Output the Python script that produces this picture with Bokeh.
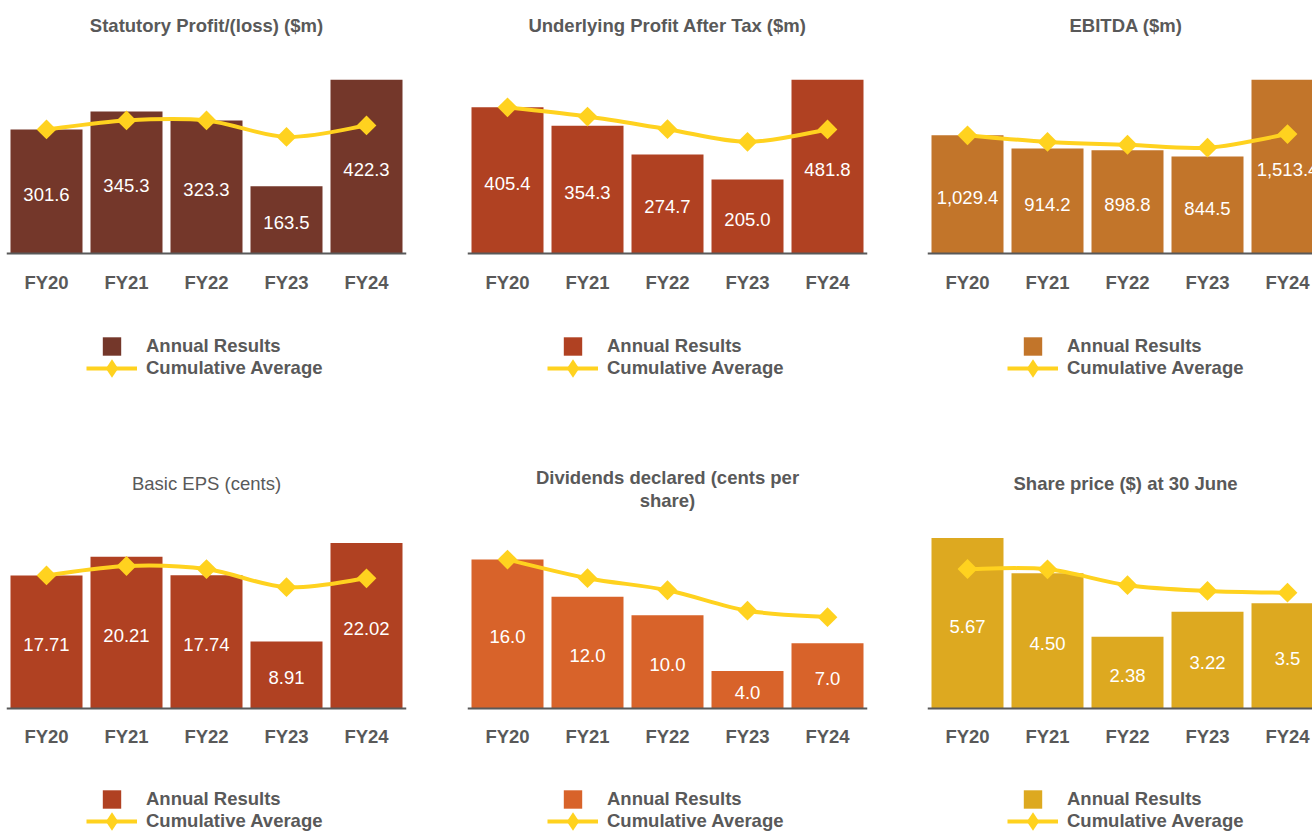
import math
from bokeh.plotting import figure
from bokeh.layouts import column, row
from bokeh.models import (ColumnDataSource, Range1d, FixedTicker, Legend, LegendItem, Title)
from bokeh.core.properties import value
from bokeh.embed import file_html
from bokeh.resources import INLINE

# ---------------- data ----------------
years = ["FY20", "FY21", "FY22", "FY23", "FY24"]

statutory = [301.6, 345.3, 323.3, 163.5, 422.3]
statutory_avg = [301.6, 323.5, 323.4, 283.4, 311.2]
statutory_labels = ["301.6", "345.3", "323.3", "163.5", "422.3"]

underlying = [405.4, 354.3, 274.7, 205.0, 481.8]
underlying_avg = [405.4, 379.9, 344.8, 309.9, 344.2]
underlying_labels = ["405.4", "354.3", "274.7", "205.0", "481.8"]

ebitda = [1029.4, 914.2, 898.8, 844.5, 1513.4]
ebitda_avg = [1029.4, 971.8, 947.5, 921.7, 1040.1]
ebitda_labels = ["1,029.4", "914.2", "898.8", "844.5", "1,513.4"]

eps = [17.71, 20.21, 17.74, 8.91, 22.02]
eps_avg = [17.71, 18.96, 18.55, 16.14, 17.32]
eps_labels = ["17.71", "20.21", "17.74", "8.91", "22.02"]

dividends = [16.0, 12.0, 10.0, 4.0, 7.0]
dividends_avg = [16.0, 14.0, 12.7, 10.5, 9.8]
dividends_labels = ["16.0", "12.0", "10.0", "4.0", "7.0"]

share_price = [5.67, 4.50, 2.38, 3.22, 3.50]
share_price_avg = [4.64, 4.63, 4.10, 3.91, 3.85]
share_price_labels = ["5.67", "4.50", "2.38", "3.22", "3.5"]

legend_labels = ["Annual Results", "Cumulative Average"]

# ---------------- style ----------------
FONT = "Liberation Sans"
GREY = "#595959"
YELLOW = "#FFD21F"
FS = "18.5px"


def smooth_segments(xs, ys):
    """Cubic (Catmull-Rom style) bezier segments through the data points."""
    n = len(xs)
    seg = dict(x0=[], y0=[], x1=[], y1=[], cx0=[], cy0=[], cx1=[], cy1=[])
    for i in range(n - 1):
        a = max(i - 1, 0)
        d = min(i + 2, n - 1)
        seg["x0"].append(xs[i]); seg["y0"].append(ys[i])
        seg["x1"].append(xs[i + 1]); seg["y1"].append(ys[i + 1])
        seg["cx0"].append(xs[i] + (xs[i + 1] - xs[a]) / 6)
        seg["cy0"].append(ys[i] + (ys[i + 1] - ys[a]) / 6)
        seg["cx1"].append(xs[i + 1] - (xs[d] - xs[i]) / 6)
        seg["cy1"].append(ys[i + 1] - (ys[d] - ys[i]) / 6)
    return seg


def panel(title_lines, vals, avg, labels, color, *, width, left, frame_w, height,
          frame_top, baseline, px_per_unit, standoffs, title_bold=True,
          title_align="center", title_offset=0):
    n = len(vals)
    xs = list(range(n))
    unit = 80.0  # pixels per category
    x_start = -0.5
    x_end = x_start + frame_w / unit
    y_end = (baseline - frame_top) / px_per_unit
    y_start = -(height - baseline) / px_per_unit

    p = figure(width=width, height=height,
               x_range=Range1d(x_start, x_end), y_range=Range1d(y_start, y_end),
               y_axis_location=None, output_backend="svg", toolbar_location=None,
               min_border_left=left, min_border_right=width - left - frame_w,
               min_border_top=frame_top, min_border_bottom=0)
    p.title.text = ""
    p.outline_line_color = None
    p.xgrid.visible = False
    p.ygrid.visible = False
    p.background_fill_color = "white"
    p.border_fill_color = "white"

    # title lines: the last line sits closest to the chart
    for line, so in zip(reversed(title_lines), reversed(standoffs)):
        t = Title(text=line, align=title_align, offset=title_offset, standoff=so,
                  text_font=FONT, text_font_size=FS,
                  text_font_style="bold" if title_bold else "normal",
                  text_color=GREY)
        p.add_layout(t, "above")

    ax = p.xaxis[0]
    ax.fixed_location = 0
    ax.ticker = FixedTicker(ticks=xs)
    ax.major_label_overrides = {i: y for i, y in enumerate(years)}
    ax.axis_line_color = GREY
    ax.axis_line_width = 2
    ax.major_tick_line_color = None
    ax.minor_tick_line_color = None
    ax.major_tick_out = 0
    ax.major_tick_in = 0
    ax.major_label_standoff = 18
    ax.major_label_text_font = FONT
    ax.major_label_text_font_size = FS
    ax.major_label_text_font_style = "bold"
    ax.major_label_text_color = GREY

    src = ColumnDataSource(dict(x=xs, top=vals, mid=[v / 2 for v in vals],
                                label=labels, avg=avg))
    p.vbar(x="x", top="top", bottom=0, width=0.9, source=src,
           fill_color=color, line_color=None)
    p.text(x="x", y="mid", text="label", source=src, text_color="white",
           text_align="center", text_baseline="middle", y_offset=3,
           text_font=value(FONT), text_font_size=value(FS))
    seg_src = ColumnDataSource(smooth_segments(xs, avg))
    ln = p.bezier(x0="x0", y0="y0", x1="x1", y1="y1", cx0="cx0", cy0="cy0",
                  cx1="cx1", cy1="cy1", source=seg_src,
                  line_color=YELLOW, line_width=4)
    p.scatter(x="x", y="avg", source=src, marker="square", angle=math.pi / 4,
              size=14, fill_color=YELLOW, line_color=None)
    # legend-only swatches (zero size on the chart)
    sw = p.scatter(x="x", y="top", source=src, marker="square", size=0,
                   fill_color=color, line_color=None)
    dl = p.scatter(x="x", y="avg", source=src, marker="diamond", size=0,
                   fill_color=YELLOW, line_color=None)

    gh = 46
    common = dict(glyph_width=51, glyph_height=gh, label_standoff=9,
                  padding=0, margin=0, border_line_color=None,
                  background_fill_alpha=0,
                  label_text_font=FONT, label_text_font_size=FS,
                  label_text_font_style="bold", label_text_color=GREY)
    leg_a = Legend(items=[LegendItem(label=legend_labels[0], renderers=[sw])],
                   location=(80, height - 346 - gh / 2), **common)
    leg_b = Legend(items=[LegendItem(label=legend_labels[1], renderers=[ln, dl])],
                   location=(80, height - 368 - gh / 2), **common)
    p.add_layout(leg_a)
    p.add_layout(leg_b)
    return p


H1, H2 = 453, 378
common1 = dict(height=H1, baseline=253, frame_top=46)
common2 = dict(height=H2, baseline=254, frame_top=55)

p1 = panel(["Statutory Profit/(loss) ($m)"], statutory, statutory_avg, statutory_labels,
           "#74372A", width=460, left=6, frame_w=400, standoffs=[22],
           px_per_unit=0.4115, **common1)
p2 = panel(["Underlying Profit After Tax ($m)"], underlying, underlying_avg, underlying_labels,
           "#B04122", width=460, left=7, frame_w=400, standoffs=[22],
           px_per_unit=0.3605, **common1)
p3 = panel(["EBITDA ($m)"], ebitda, ebitda_avg, ebitda_labels,
           "#C2752A", width=392, left=7, frame_w=385, standoffs=[22],
           px_per_unit=0.1148, title_align="left", title_offset=142, **common1)

p4 = panel(["Basic EPS (cents)"], eps, eps_avg, eps_labels,
           "#B04122", width=460, left=6, frame_w=400, standoffs=[34],
           px_per_unit=7.55, title_bold=False, **common2)
p5 = panel(["Dividends declared (cents per", "share)"], dividends, dividends_avg,
           dividends_labels, "#D8632A", width=460, left=7, frame_w=400,
           standoffs=[0, 0], px_per_unit=9.35, **common2)
p6 = panel(["Share price ($) at 30 June"], share_price, share_price_avg, share_price_labels,
           "#DDA920", width=392, left=7, frame_w=385, standoffs=[34],
           px_per_unit=30.2, title_align="left", title_offset=86, **common2)

layout = column(row(p1, p2, p3, spacing=0), row(p4, p5, p6, spacing=0), spacing=0)

open("out.html", "w").write(file_html(layout, INLINE))
